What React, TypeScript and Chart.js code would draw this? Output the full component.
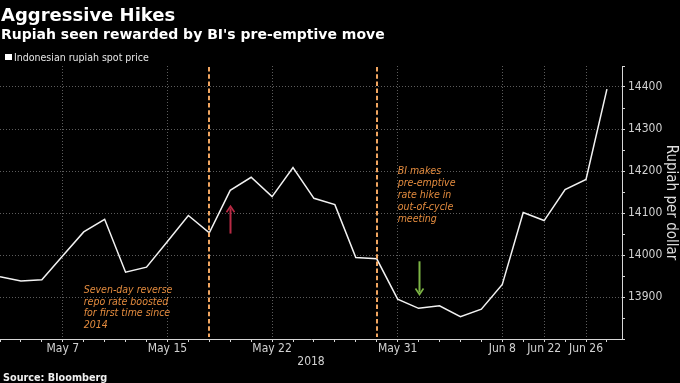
import React, { useEffect, useRef } from 'react';
import { Chart, registerables } from 'chart.js';

Chart.register(...registerables);

// ---- Data ----
const dates = [
  'May 2', 'May 3', 'May 4', 'May 7', 'May 8', 'May 9', 'May 11', 'May 14', 'May 15', 'May 16',
  'May 17', 'May 18', 'May 21', 'May 22', 'May 23', 'May 24', 'May 25', 'May 28', 'May 30', 'May 31',
  'Jun 4', 'Jun 5', 'Jun 6', 'Jun 7', 'Jun 8', 'Jun 21', 'Jun 22', 'Jun 25', 'Jun 26', 'Jun 27',
];
const rupiah = [
  13948, 13938, 13941, 13998, 14055, 14085, 13959, 13971, 14032, 14094,
  14053, 14154, 14185, 14139, 14208, 14135, 14120, 13994, 13991, 13895,
  13873, 13879, 13853, 13871, 13930, 14101, 14082, 14156, 14180, 14395,
];
const labeledDates = ['May 7', 'May 15', 'May 22', 'May 31', 'Jun 8', 'Jun 22', 'Jun 26'];
const yMin = 13800;
const yMax = 14450;
const yLabelStep = 100;
const yMinorStep = 50;

// annotations (in data space)
const eventDates = ['May 17', 'May 30'];
const noteDates = ['May 8', 'May 31'];
const noteValues = [13910, 14192];
const noteLines = [
  ['Seven-day reverse', 'repo rate boosted', 'for first time since', '2014'],
  ['BI makes', 'pre-emptive', 'rate hike in', 'out-of-cycle', 'meeting'],
];
const arrowDates = ['May 18', 'Jun 4'];
const arrowFrom = [14051, 13985];
const arrowTo = [14116, 13906];

// ---- Styles ----
const ORANGE_TEXT = '#e38b3e';
const ORANGE_LINE = '#f0a560';
const ARROW_COLORS = ['#b82a44', '#7db545'];
const GRID = '#5c5c5c';
const AXIS = '#d6d6d6';
const TICK_TEXT = '#d2d2d2';
const COND = '"DejaVu Sans Condensed", "DejaVu Sans", sans-serif';

const annotationPlugin = {
  id: 'bbgAnnotations',
  afterDatasetsDraw(chart: any) {
    const { ctx, chartArea, scales } = chart;
    const x = scales.x;
    const y = scales.y;
    ctx.save();
    // event dashed lines
    ctx.strokeStyle = ORANGE_LINE;
    ctx.lineWidth = 2;
    ctx.setLineDash([4.5, 2.7]);
    eventDates.forEach((d) => {
      const px = Math.round(x.getPixelForValue(dates.indexOf(d)));
      ctx.beginPath();
      ctx.moveTo(px, chartArea.top + 1);
      ctx.lineTo(px, chartArea.bottom - 2);
      ctx.stroke();
    });
    ctx.setLineDash([]);
    // notes
    ctx.fillStyle = ORANGE_TEXT;
    ctx.font = 'italic 10.5px ' + COND;
    ctx.textAlign = 'left';
    ctx.textBaseline = 'alphabetic';
    noteLines.forEach((lines, i) => {
      const px = x.getPixelForValue(dates.indexOf(noteDates[i]));
      const py = y.getPixelForValue(noteValues[i]);
      lines.forEach((t, j) => ctx.fillText(t, px, py + j * 11.8));
    });
    // arrows
    arrowDates.forEach((d, i) => {
      const px = Math.round(x.getPixelForValue(dates.indexOf(d))) + 0.5;
      const y0 = y.getPixelForValue(arrowFrom[i]);
      const y1 = y.getPixelForValue(arrowTo[i]);
      const dir = y1 < y0 ? -1 : 1;
      const head = 6;
      ctx.strokeStyle = ARROW_COLORS[i];
      ctx.fillStyle = ARROW_COLORS[i];
      ctx.lineWidth = 2;
      ctx.beginPath();
      ctx.moveTo(px, y0);
      ctx.lineTo(px, y1 - dir * 2);
      ctx.stroke();
      ctx.lineWidth = 1.6;
      ctx.beginPath();
      ctx.moveTo(px - 4, y1 - dir * head);
      ctx.lineTo(px, y1);
      ctx.lineTo(px + 4, y1 - dir * head);
      ctx.stroke();
    });
    ctx.restore();
  },
};

export default function App() {
  const canvasRef = useRef<HTMLCanvasElement | null>(null);

  useEffect(() => {
    document.body.style.margin = '0';
    document.body.style.background = '#000';
    const canvas = canvasRef.current;
    if (!canvas) return;
    const isLabeled = (v: number) => labeledDates.includes(dates[v]);
    const chart = new Chart(canvas, {
      type: 'line',
      data: {
        datasets: [
          {
            label: 'Indonesian rupiah spot price',
            data: rupiah.map((v, i) => ({ x: i, y: v })),
            borderColor: '#f2f2f2',
            borderWidth: 1.5,
            pointRadius: 0,
            tension: 0,
            fill: false,
          },
        ],
      },
      options: {
        animation: false,
        responsive: false,
        maintainAspectRatio: false,
        devicePixelRatio: 1,
        layout: { padding: { top: 66, left: 0, right: 0, bottom: 13.5 } },
        plugins: {
          legend: { display: false },
          title: { display: false },
          tooltip: { enabled: false },
        },
        scales: {
          x: {
            type: 'linear',
            min: 0,
            max: 29.72,
            afterBuildTicks: (scale: any) => {
              scale.ticks = dates.map((_, i) => ({ value: i }));
            },
            afterFit: (scale: any) => {
              scale.height = 30.5;
            },
            ticks: {
              autoSkip: false,
              maxRotation: 0,
              minRotation: 0,
              padding: 0,
              color: TICK_TEXT,
              font: { family: COND, size: 12 },
              callback: (v: any) => (isLabeled(Number(v)) ? dates[Number(v)] : ''),
            },
            grid: {
              drawTicks: true,
              tickLength: 3,
              lineWidth: 1,
              color: (c: any) => (c.tick && isLabeled(c.tick.value) ? GRID : 'transparent'),
              tickColor: AXIS,
            },
            border: { display: true, color: AXIS, width: 1, dash: [1, 2] },
            title: {
              display: true,
              text: '2018',
              color: TICK_TEXT,
              font: { family: COND, size: 12 },
              padding: 0,
            },
          },
          y: {
            type: 'linear',
            position: 'right',
            min: yMin,
            max: yMax,
            afterFit: (scale: any) => {
              scale.width = 58;
            },
            ticks: {
              stepSize: yMinorStep,
              autoSkip: false,
              padding: 3,
              color: TICK_TEXT,
              font: { family: COND, size: 12 },
              callback: (v: any) => (Number(v) % yLabelStep === 0 && Number(v) > yMin ? String(v) : ''),
            },
            grid: {
              drawTicks: true,
              tickLength: 3,
              lineWidth: 1,
              color: (c: any) =>
                c.tick && c.tick.value % yLabelStep === 0 && c.tick.value > yMin ? GRID : 'transparent',
              tickColor: AXIS,
            },
            border: { display: true, color: AXIS, width: 1, dash: [1, 2] },
            title: {
              display: true,
              text: 'Rupiah per dollar',
              color: '#dedede',
              font: { family: COND, size: 15 },
              padding: 0,
            },
          },
        },
      } as any,
      plugins: [annotationPlugin],
    });
    return () => chart.destroy();
  }, []);

  return (
    <div style={{ position: 'relative', width: 680, height: 383, background: '#000', overflow: 'hidden' }}>
      <canvas ref={canvasRef} width={680} height={383} style={{ position: 'absolute', left: 0, top: 0, width: 680, height: 383 }} />
      <div
        style={{
          position: 'absolute', left: 1, top: 5.5, color: '#fff', fontFamily: '"DejaVu Sans", sans-serif',
          fontWeight: 'bold', fontSize: 18, lineHeight: '18px', whiteSpace: 'nowrap',
        }}
      >
        Aggressive Hikes
      </div>
      <div
        style={{
          position: 'absolute', left: 1, top: 26.5, color: '#fff', fontFamily: '"DejaVu Sans", sans-serif',
          fontWeight: 'bold', fontSize: 14, lineHeight: '14px', whiteSpace: 'nowrap',
        }}
      >
        Rupiah seen rewarded by BI's pre-emptive move
      </div>
      <div style={{ position: 'absolute', left: 5, top: 53.5, width: 6.5, height: 6.5, background: '#fff' }} />
      <div
        style={{
          position: 'absolute', left: 14, top: 51.8, color: '#e6e6e6', fontFamily: COND,
          fontSize: 10.5, lineHeight: '10.5px', whiteSpace: 'nowrap',
        }}
      >
        Indonesian rupiah spot price
      </div>
      <div
        style={{
          position: 'absolute', left: 3, top: 372.5, color: '#f0f0f0', fontFamily: '"DejaVu Sans", sans-serif',
          fontWeight: 'bold', fontSize: 9.7, lineHeight: '9.7px', whiteSpace: 'nowrap',
        }}
      >
        Source: Bloomberg
      </div>
    </div>
  );
}
